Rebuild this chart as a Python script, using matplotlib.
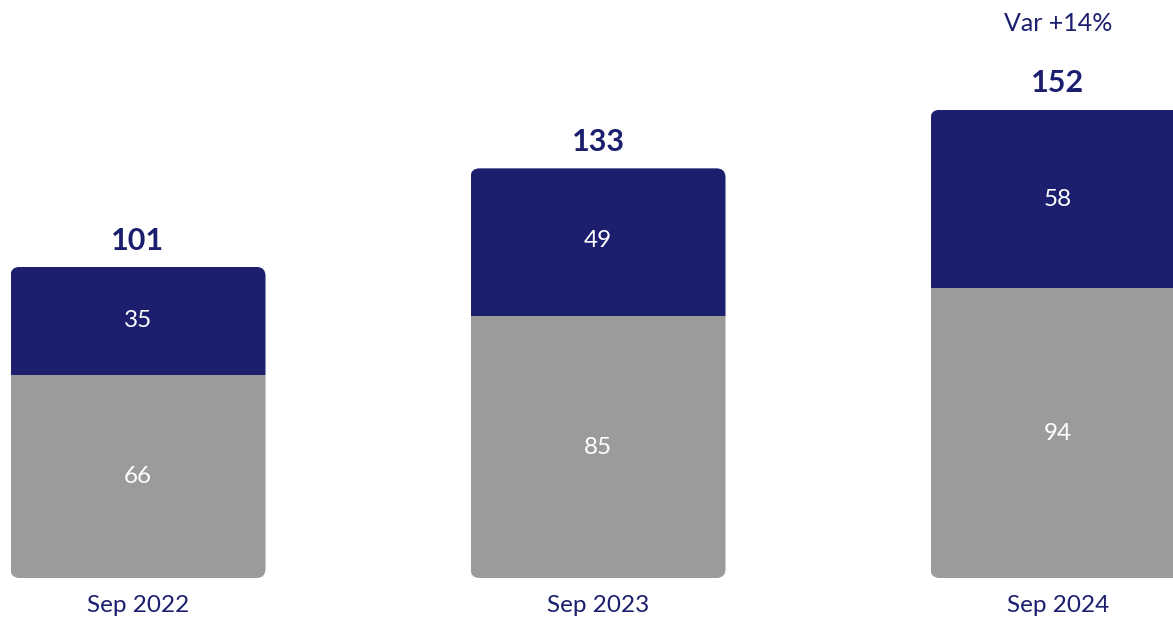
import matplotlib.pyplot as plt
from matplotlib.patches import FancyBboxPatch

categories = ['Sep 2022', 'Sep 2023', 'Sep 2024']
gray_vals = [66, 85, 94]
navy_vals = [35, 49, 58]
totals = [101, 133, 152]
var_label = 'Var +14%'

navy = '#1b1f6e'
gray = '#9b9b9b'

plt.rcParams['font.family'] = ['Lato', 'DejaVu Sans']

fig = plt.figure(figsize=(11.73, 6.18), dpi=100)
ax = fig.add_axes([0, 0, 1, 1])

# pixel layout: centres 460 px apart, 255 px wide, 3.08 px per unit
px_x = 460.0
px_y = 3.08
ax.set_xlim(-138 / px_x, (1173 - 138) / px_x)
ax.set_ylim(-40 / px_y, (618 - 40) / px_y)
ax.axis('off')

width = 255 / px_x
x = list(range(len(categories)))

b1 = ax.bar(x, gray_vals, width, color=gray, linewidth=0)
b2 = ax.bar(x, navy_vals, width, bottom=gray_vals, color=navy, linewidth=0)

# rounded outline of each stack, used as clip path
r = 9 / px_x
aspect = px_x / px_y
for i in x:
    clip = FancyBboxPatch((i - width / 2, 0), width, totals[i],
                          boxstyle=f'round,pad=0,rounding_size={r}',
                          mutation_aspect=aspect, transform=ax.transData,
                          facecolor='none', edgecolor='none')
    b1[i].set_clip_path(clip)
    b2[i].set_clip_path(clip)

for i in x:
    ax.text(i, gray_vals[i] / 2, str(gray_vals[i]), ha='center', va='center',
            color='white', fontsize=17.5)
    ax.text(i, gray_vals[i] + navy_vals[i] / 2, str(navy_vals[i]), ha='center',
            va='center', color='white', fontsize=17.5)
    ax.annotate(str(totals[i]), (i, totals[i]), xytext=(0, 19),
                textcoords='offset points', ha='center', va='center',
                color=navy, fontsize=22, fontweight='bold')
    ax.annotate(categories[i], (i, 0), xytext=(0, -20),
                textcoords='offset points', ha='center', va='center',
                color=navy, fontsize=17.5)

ax.annotate(var_label, (2, totals[2]), xytext=(0, 62),
            textcoords='offset points', ha='center', va='center',
            color=navy, fontsize=18)

fig.savefig('out.png', dpi=100)
